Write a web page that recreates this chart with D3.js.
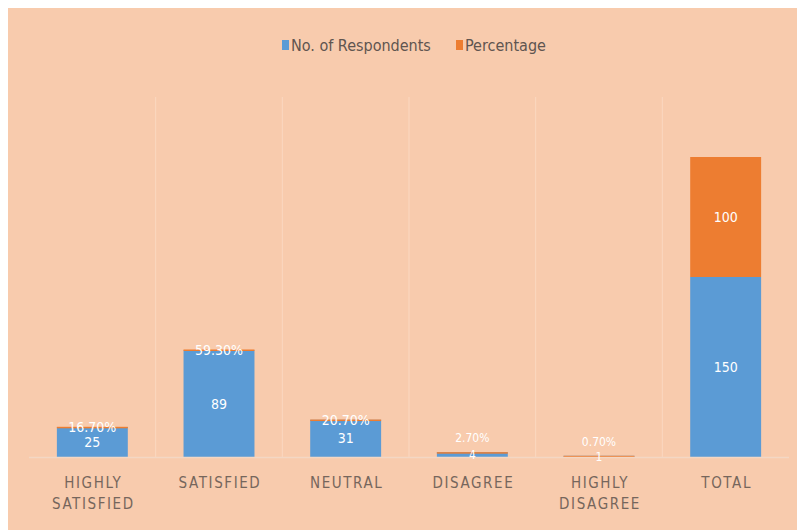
<!DOCTYPE html>
<html>
<head>
<meta charset="utf-8">
<script src="https://cdn.jsdelivr.net/npm/d3@7"></script>
<style>
  html, body { margin: 0; padding: 0; background: #ffffff; }
  svg { display: block; }
</style>
</head>
<body>
<svg id="chart" width="797" height="530"></svg>
<script>
// Survey responses by satisfaction level
const categories = ["HIGHLY SATISFIED", "SATISFIED", "NEUTRAL", "DISAGREE", "HIGHLY DISAGREE", "TOTAL"];
const respondents = [25, 89, 31, 4, 1, 150];
const percentage = [0.167, 0.593, 0.207, 0.027, 0.007, 100];
const percentageLabels = ["16.70%", "59.30%", "20.70%", "2.70%", "0.70%", "100"];
const seriesNames = ["No. of Respondents", "Percentage"];
const seriesColors = ["#5B9BD5", "#ED7D31"];

const svg = d3.select("#chart");
const W = 797, H = 530;
const font = "'Liberation Sans Narrow', 'DejaVu Sans Condensed', 'Roboto', sans-serif";

// chart area background
svg.append("rect")
  .attr("x", 8).attr("y", 8)
  .attr("width", W - 8).attr("height", H - 8)
  .attr("fill", "#F8CBAD");

const x = d3.scaleBand()
  .domain(categories)
  .range([29, 789])
  .paddingInner(0.44)
  .paddingOuter(0.22);

const y = d3.scaleLinear()
  .domain([0, 300])
  .range([457, 97]);

// vertical separators between categories
const step = x.step();
const sepX = categories.slice(1).map(c => x(c) - step * 0.22);
svg.append("g").selectAll("line")
  .data(sepX)
  .join("line")
  .attr("x1", d => d).attr("x2", d => d)
  .attr("y1", y(300)).attr("y2", y(0))
  .attr("stroke", "#FBD8C1")
  .attr("stroke-width", 1);

// stacked bars
const rows = categories.map((c, i) => ({ cat: c, r: respondents[i], p: percentage[i], pl: percentageLabels[i] }));
const stack = d3.stack().keys(["r", "p"])(rows);

const g = svg.append("g");
stack.forEach((layer, li) => {
  g.append("g").selectAll("rect")
    .data(layer)
    .join("rect")
    .attr("x", d => x(d.data.cat))
    .attr("width", x.bandwidth())
    .attr("y", d => y(d[1]))
    .attr("height", d => Math.max(y(d[0]) - y(d[1]), 1.5))
    .attr("fill", seriesColors[li]);
});

// baseline
svg.append("line")
  .attr("x1", 29).attr("x2", 789)
  .attr("y1", y(0) + 0.5).attr("y2", y(0) + 0.5)
  .attr("stroke", "#F3D7C4").attr("stroke-width", 1.5);

// value labels; percentage labels on very short bars sit just above the bar
const segMid = d => (y(d[0]) + y(d[1])) / 2;
const shortBar = d => (y(0) - y(d.data.r)) < 14;
stack.forEach((layer, li) => {
  svg.append("g").selectAll("text")
    .data(layer)
    .join("text")
    .attr("x", d => x(d.data.cat) + x.bandwidth() / 2)
    .attr("y", d => (li === 1 && shortBar(d)) ? y(d[1]) - 14 : segMid(d))
    .attr("dy", "0.35em")
    .attr("text-anchor", "middle")
    .attr("fill", "#ffffff")
    .attr("font-family", font)
    .attr("font-size", d => shortBar(d) ? 12 : 14)
    .text(d => li === 0 ? d.data.r : d.data.pl);
});

// category axis labels
const axisG = svg.append("g");
categories.forEach(c => {
  const words = c.split(" ");
  const t = axisG.append("text")
    .attr("x", x(c) + x.bandwidth() / 2)
    .attr("y", 488)
    .attr("text-anchor", "middle")
    .attr("fill", "#76665C")
    .attr("font-family", font)
    .attr("font-size", 15)
    .attr("letter-spacing", "1.6px");
  words.forEach((w, i) => {
    t.append("tspan")
      .attr("x", x(c) + x.bandwidth() / 2 + 1)
      .attr("dy", i === 0 ? 0 : 21)
      .text(w);
  });
});

// legend
const legend = svg.append("g").attr("transform", "translate(282,45)");
const legendX = [0, 174];
seriesNames.forEach((name, i) => {
  const lg = legend.append("g").attr("transform", `translate(${legendX[i]},0)`);
  lg.append("rect").attr("x", 0).attr("y", -5).attr("width", 7).attr("height", 10).attr("fill", seriesColors[i]);
  lg.append("text")
    .attr("x", 9).attr("y", 0).attr("dy", "0.35em")
    .attr("fill", "#5F5550")
    .attr("font-family", font)
    .attr("font-size", 16)
    .text(name);
});
</script>
</body>
</html>
